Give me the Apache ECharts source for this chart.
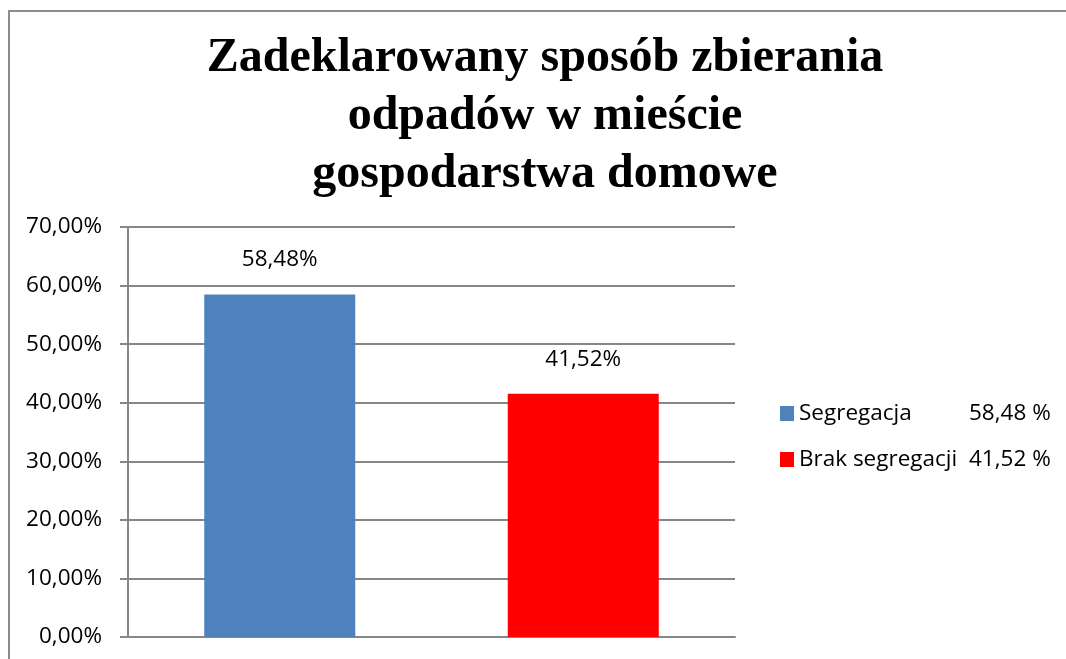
<!DOCTYPE html>
<html>
<head>
<meta charset="utf-8">
<script src="https://cdn.jsdelivr.net/npm/echarts@6/dist/echarts.min.js"></script>
<style>
  html, body { margin: 0; padding: 0; background: #fff; }
  #chart { width: 1066px; height: 659px; }
  #frame { position: absolute; left: 8px; top: 10px; width: 1100px; height: 700px; border: 2px solid #8c8c8c; box-sizing: border-box; }
</style>
</head>
<body>
<div id="frame"></div>
<div id="chart" style="position:absolute;left:0;top:0;"></div>
<script>
// Dane wykresu
const categories = ['Segregacja', 'Brak segregacji'];
const values = [58.48, 41.52];
const legendValues = ['58,48 %', '41,52 %'];
const colors = ['#4F81BD', '#FF0000'];
const yTicks = [0, 10, 20, 30, 40, 50, 60, 70];

const fmt = (v, d) => v.toFixed(d).replace('.', ',') + '%';
const font = 'Open Sans, sans-serif';

const chart = echarts.init(document.getElementById('chart'));

const series = categories.map((name, i) => ({
  name: name,
  type: 'bar',
  barGap: '-100%',
  barWidth: 151,
  data: categories.map((c, j) => (i === j ? values[i] : '-')),
  itemStyle: { color: colors[i] },
  label: {
    show: true,
    position: 'top',
    distance: 23,
    color: '#000',
    fontFamily: font,
    fontSize: 22.5,
    formatter: p => fmt(p.value, 2)
  }
}));

chart.setOption({
  animation: false,
  title: {
    text: 'Zadeklarowany sposób zbierania\nodpadów w mieście\ngospodarstwa domowe',
    left: 540,
    textAlign: 'center',
    top: 25,
    textStyle: {
      fontFamily: 'Liberation Serif, serif',
      fontWeight: 'bold',
      fontSize: 48,
      lineHeight: 58,
      color: '#000'
    }
  },
  legend: {
    orient: 'vertical',
    left: 775,
    top: 397,
    itemWidth: 14,
    itemHeight: 15,
    itemGap: 23,
    icon: 'rect',
    formatter: name => {
      const i = categories.indexOf(name);
      return '{a|' + name + '}{b|' + legendValues[i] + '}';
    },
    textStyle: {
      color: '#000',
      fontFamily: font,
      fontSize: 22.5,
      rich: {
        a: { width: 170, fontFamily: font, fontSize: 22.5, lineHeight: 26, color: '#000' },
        b: { fontFamily: font, fontSize: 22.5, lineHeight: 26, color: '#000' }
      }
    }
  },
  grid: { left: 128, top: 227, width: 607, height: 410, containLabel: false },
  xAxis: {
    type: 'category',
    data: categories,
    axisLine: { lineStyle: { color: '#868686', width: 2 } },
    axisTick: { show: false },
    axisLabel: { show: false }
  },
  yAxis: {
    type: 'value',
    min: yTicks[0],
    max: yTicks[yTicks.length - 1],
    interval: 10,
    axisLine: { show: true, lineStyle: { color: '#868686', width: 2 } },
    axisTick: { show: true, length: 8, lineStyle: { color: '#868686', width: 2 } },
    splitLine: { lineStyle: { color: '#868686', width: 2 } },
    axisLabel: {
      margin: 26,
      color: '#000',
      fontFamily: font,
      fontSize: 22.5,
      formatter: v => fmt(v, 2)
    }
  },
  series: series
});
</script>
</body>
</html>
